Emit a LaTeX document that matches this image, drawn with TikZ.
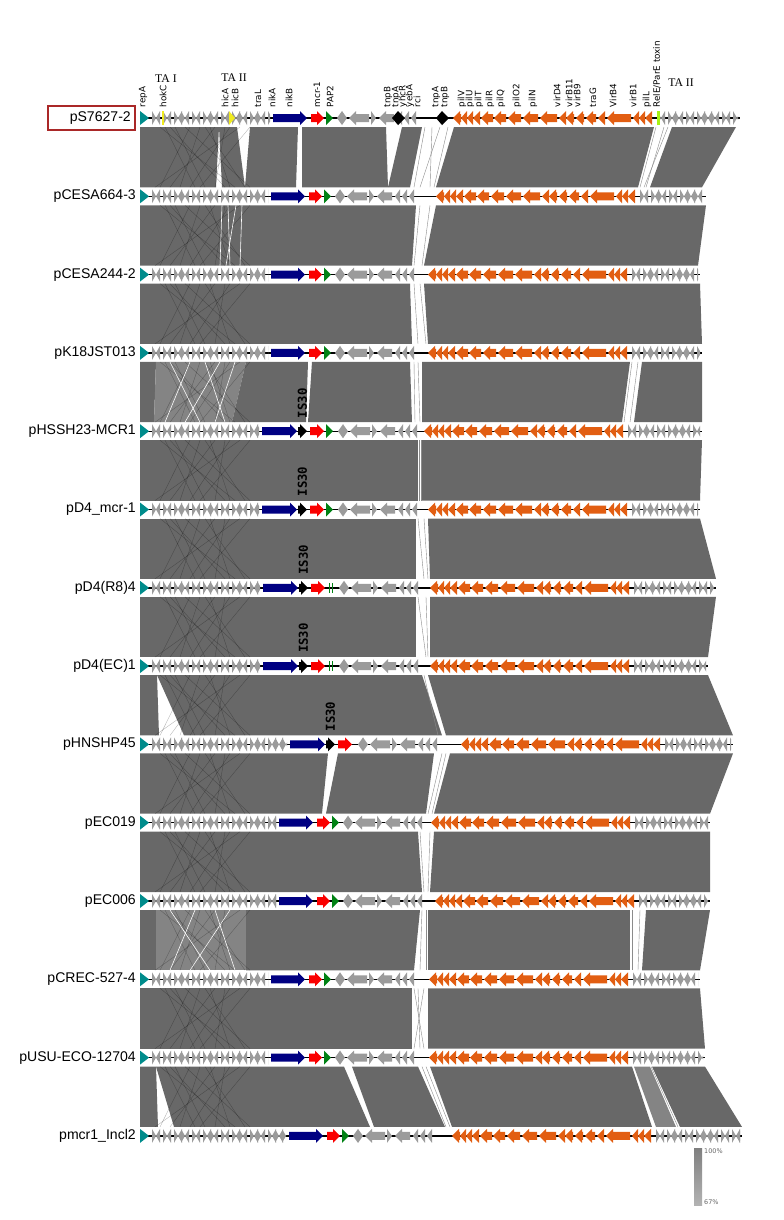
\documentclass[tikz,border=0pt]{standalone}
\usepackage{fontspec}
\setmainfont{DejaVu Sans}
\newfontfamily\lblfont{Liberation Sans}
\newfontfamily\tafont{Liberation Serif}
\newfontfamily\isfont{DejaVu Sans Mono}
\definecolor{BandGray}{RGB}{104,104,104}
\definecolor{BandLight}{RGB}{132,132,132}
\definecolor{GeneGray}{RGB}{155,155,155}
\definecolor{NikBlue}{RGB}{0,0,130}
\definecolor{McrRed}{RGB}{250,0,0}
\definecolor{PapGreen}{RGB}{0,130,20}
\definecolor{VirOrange}{RGB}{226,94,18}
\definecolor{RepTeal}{RGB}{0,140,140}
\definecolor{TaYellow}{RGB}{240,235,30}
\definecolor{BoxRed}{RGB}{170,40,40}
% gene arrows: y, x start, x end, colour
\newcommand{\genr}[4]{\fill[#4] (#2,#1-4) -- ({max(#2,#3-7)},#1-4) -- ({max(#2,#3-7)},#1-7) -- (#3,#1) -- ({max(#2,#3-7)},#1+7) -- ({max(#2,#3-7)},#1+4) -- (#2,#1+4) -- cycle;}
\newcommand{\genl}[4]{\fill[#4] (#2,#1) -- ({min(#2+7,#3)},#1-7) -- ({min(#2+7,#3)},#1-4) -- (#3,#1-4) -- (#3,#1+4) -- ({min(#2+7,#3)},#1+4) -- ({min(#2+7,#3)},#1+7) -- cycle;}
% two small genes face to face
\newcommand{\genx}[3]{\genr{#1}{#2}{#2+4}{#3}\genl{#1}{#2+4}{#2+8}{#3}}
% comparison block between track at y and the next one
\newcommand{\cmpblock}[6][BandGray]{\fill[#1] (#3,#2+9) -- (#4,#2+9) -- (#6,#2+69.3) -- (#5,#2+69.3) -- cycle;}
\newcommand{\crosslines}[1]{\foreach \ta/\tb in {160/235,175/205,190/160,205/245,215/170,230/190,240/155,170/225,200/180,225/215,185/250,250/200,165/195,210/230}{\draw[xline] (\ta,#1+9) -- (\tb,#1+69.3);}}

\begin{document}
\begin{tikzpicture}[x=0.03cm,y=-0.03cm,
  trackline/.style={line width=1.2pt},
  tracklabel/.style={anchor=east,inner sep=0pt,font=\lblfont\fontsize{12}{14}\selectfont},
  genelabel/.style={rotate=90,anchor=west,inner sep=0.5pt,font=\fontsize{7.5}{8}\selectfont},
  talabel/.style={inner sep=0pt,font=\tafont\fontsize{10}{11}\selectfont},
  islabel/.style={rotate=90,inner sep=0pt,font=\isfont\bfseries\fontsize{10.5}{11}\selectfont},
  leglabel/.style={anchor=west,inner sep=0pt,text=black!60,font=\fontsize{5.5}{6}\selectfont},
  xline/.style={draw=black,opacity=0.3,line width=0.3pt},
  wline/.style={draw=white,line width=0.5pt},
  gline/.style={draw=black!45,line width=0.35pt}]
\useasboundingbox (0,0) rectangle (784,1220);

% comparison bands
\cmpblock{118}{140}{219}{140}{216}
\cmpblock{118}{219}{237}{222}{245}
\cmpblock{118}{250}{298}{245}{296}
\cmpblock{118}{302}{386}{302}{388}
\cmpblock{118}{402}{422}{388}{410}
\cmpblock{118}{454}{654}{436}{638}
\cmpblock{118}{672}{736}{650}{702}
\cmpblock{196.3}{140}{416}{140}{412}
\cmpblock{196.3}{436}{706}{424}{698}
\cmpblock{274.6}{140}{410}{140}{412}
\cmpblock{274.6}{424}{700}{428}{702}
\cmpblock{352.9}{140}{156}{140}{154}
\cmpblock[BandLight]{352.9}{156}{246}{154}{232}
\cmpblock{352.9}{246}{308}{232}{306}
\cmpblock{352.9}{312}{410}{308}{412}
\cmpblock{352.9}{422}{630}{422}{622}
\cmpblock{352.9}{642}{702}{634}{702}
\cmpblock{431.2}{140}{418}{140}{418}
\cmpblock{431.2}{422}{702}{422}{700}
\cmpblock{509.5}{140}{416}{140}{416}
\cmpblock{509.5}{428}{700}{430}{716}
\cmpblock{587.8}{140}{416}{140}{416}
\cmpblock{587.8}{430}{716}{430}{708}
\cmpblock{666.1}{140}{157}{140}{159}
\cmpblock{666.1}{157}{422}{184}{442}
\cmpblock{666.1}{428}{708}{446}{733}
\cmpblock{744.4}{140}{328}{140}{322}
\cmpblock{744.4}{338}{434}{326}{426}
\cmpblock{744.4}{450}{733}{434}{710}
\cmpblock{822.7}{140}{418}{140}{422}
\cmpblock{822.7}{434}{710}{430}{710}
\cmpblock{901}{140}{156}{140}{156}
\cmpblock[BandLight]{901}{156}{246}{156}{246}
\cmpblock{901}{246}{420}{246}{414}
\cmpblock{901}{428}{630}{428}{630}
\cmpblock{901}{646}{710}{642}{700}
\cmpblock{979.3}{140}{412}{140}{412}
\cmpblock{979.3}{428}{700}{428}{705}
\cmpblock{1057.6}{140}{156}{140}{158}
\cmpblock{1057.6}{156}{344}{174}{370}
\cmpblock{1057.6}{352}{418}{374}{445}
\cmpblock{1057.6}{430}{632}{452}{652}
\cmpblock[BandLight]{1057.6}{634}{650}{656}{676}
\cmpblock{1057.6}{652}{705}{680}{742}

\foreach \yp in {118,196.3,274.6,352.9,431.2,509.5,587.8,666.1,744.4,822.7,901,979.3,1057.6}{\crosslines{\yp}}
\foreach \ta/\tb in {222/220,228/230,236/226,242/240}{\draw[wline] (\ta,205.3) -- (\tb,265.6);}
\foreach \ta/\tb in {170/200,190/165,205/225,220/185,235/215}{\draw[wline] (\ta,361.9) -- (\tb,422.2);}
\foreach \ta/\tb in {170/210,195/170,215/235,230/190}{\draw[wline] (\ta,910) -- (\tb,970.3);}
\foreach \yp/\ta/\tb in {118/425/414,118/440/420,118/448/434,118/432/430,196.3/420/414,196.3/430/422,274.6/414/418,274.6/420/426,352.9/414/415,352.9/418/420,431.2/419/419,431.2/421/421,509.5/418/424,509.5/424/428,587.8/418/426,587.8/426/428,666.1/424/438,744.4/442/428,744.4/446/432,822.7/420/424,822.7/430/428,901/422/420,901/426/426,979.3/414/424,979.3/424/414,979.3/418/420,1057.6/422/446,1057.6/426/450,118/656/640,118/664/646,118/668/644,352.9/632/624,352.9/638/630,901/632/632,901/640/638,1057.6/651/678}{\draw[gline] (\ta,\yp+9) -- (\tb,\yp+69.3);}

% tracks
\foreach \i/\nm/\xe/\xb/\xo/\md in {1/pS7627-2/740/273/453/0, 2/pCESA664-3/706/271/436/0, 3/pCESA244-2/700/271/428/0, 4/pK18JST013/702/271/428/0, 5/pHSSH23-MCR1/702/262/424/1, 6/pD4\_mcr-1/700/262/428/1, 7/pD4(R8)4/716/263/430/2, 8/pD4(EC)1/708/263/430/2, 9/pHNSHP45/733/290/461/3, 10/pEC019/710/279/431/0, 11/pEC006/710/279/435/0, 12/pCREC-527-4/700/271/429/0, 13/pUSU-ECO-12704/705/271/429/0, 14/pmcr1\_Incl2/742/289/452/0}{
  \pgfmathsetmacro{\y}{118+(\i-1)*78.3}
  \pgfmathsetmacro{\lx}{\i==1 ? 131 : 136}
  \node[tracklabel] (trk\i) at (\lx,\y) {\nm};
  \draw[trackline] (140,\y) -- (\xe,\y);
  \fill[RepTeal] (140,\y-7) -- (149,\y) -- (140,\y+7) -- cycle;
  \begin{scope}
    \clip (150,\y-8) rectangle (\xb-3,\y+8);
    \foreach \a in {152,163,174,181,192,203,210,221,232,239,250,257,268,275,282}{\genx{\y}{\a}{GeneGray}}
  \end{scope}
  \ifnum\md=0
    \genr{\y}{\xb}{\xb+34}{NikBlue}
    \genr{\y}{\xb+38}{\xb+51}{McrRed}
    \genr{\y}{\xb+53}{\xb+60}{PapGreen}
    \pgfmathsetmacro{\xg}{\xb+60}
  \else
    \genr{\y}{\xb}{\xb+35}{NikBlue}
    \genr{\y}{\xb+36}{\xb+45}{black}
    \genr{\y}{\xb+48}{\xb+62}{McrRed}
    \node[islabel] (is\i) at (\xb+40.5,\y-28) {IS30};
    \ifnum\md=1 \genr{\y}{\xb+64}{\xb+71}{PapGreen}\fi
    \ifnum\md=2 \draw[PapGreen,line width=0.6pt] (\xb+66,\y-5) -- (\xb+66,\y+5) (\xb+69,\y-5) -- (\xb+69,\y+5);\fi
    \pgfmathsetmacro{\xg}{\md==3 ? \xb+64 : \xb+72}
  \fi
  \foreach \a/\b in {4/9,16/36,46/61,64/69,71/76,78/83}{\genl{\y}{\xg+\a}{\xg+\b}{GeneGray}}
  \foreach \a/\b in {9/14,38/43}{\genr{\y}{\xg+\a}{\xg+\b}{GeneGray}}
  \foreach \a/\b in {0/8,8/14,14/20,20/27,28/40,41/53,55/68,70/85,87/104,106/113,113/121,123/131,133/143,145/152,154/178,180/186,186/192,192/199}{\genl{\y}{\xo+\a}{\xo+\b}{VirOrange}}
  \begin{scope}
    \clip (\xo+201,\y-8) rectangle (\xe-2,\y+8);
    \foreach \a in {3,14,21,32,43,50,57,68,79,86,93}{\genx{\y}{\xo+201+\a}{GeneGray}}
  \end{scope}
}

% reference plasmid extras
\draw[BoxRed,line width=1pt] (48,106) rectangle (135,130);
\fill[TaYellow] (162,111) rectangle (164,125);
\genr{118}{229}{235}{TaYellow}
\fill[TaYellow!70!green] (657,111) rectangle (660,125);
\genl{118}{392}{398}{black}
\genr{118}{398}{405}{black}
\genl{118}{436}{442}{black}
\genr{118}{442}{449}{black}

\foreach \x/\t [count=\k] in {143/repA,163/hokC,225/hicA,235/hicB,258/traL,272/nikA,289/nikB,317/mcr-1,330/PAP2,388/tnpB,396/tnpA,403/yhcR,410/yebA,417/rci,436/tnpA,445/tnpB,462/pilV,470/pilU,479/pilT,490/pilR,501/pilQ,517/pilO2,533/pilN,557/virD4,569/virB11,577/virB9,593/traG,613/VirB4,633/virB1,647/pilL}{\node[genelabel] (gene\k) at (\x,108) {\t};}
\node[genelabel] (relE) at (657,108) {RelE/ParE toxin};
\node[talabel] (ta1) at (166,79) {TA I};
\node[talabel] (ta2) at (234,78) {TA II};
\node[talabel] (ta3) at (681,83) {TA II};

% identity scale
\shade[top color=black!50,bottom color=black!30] (694,1148) rectangle (702,1205);
\node[leglabel] (leg100) at (704,1151) {100\%};
\node[leglabel] (leg67) at (704,1202) {67\%};
\end{tikzpicture}
\end{document}
